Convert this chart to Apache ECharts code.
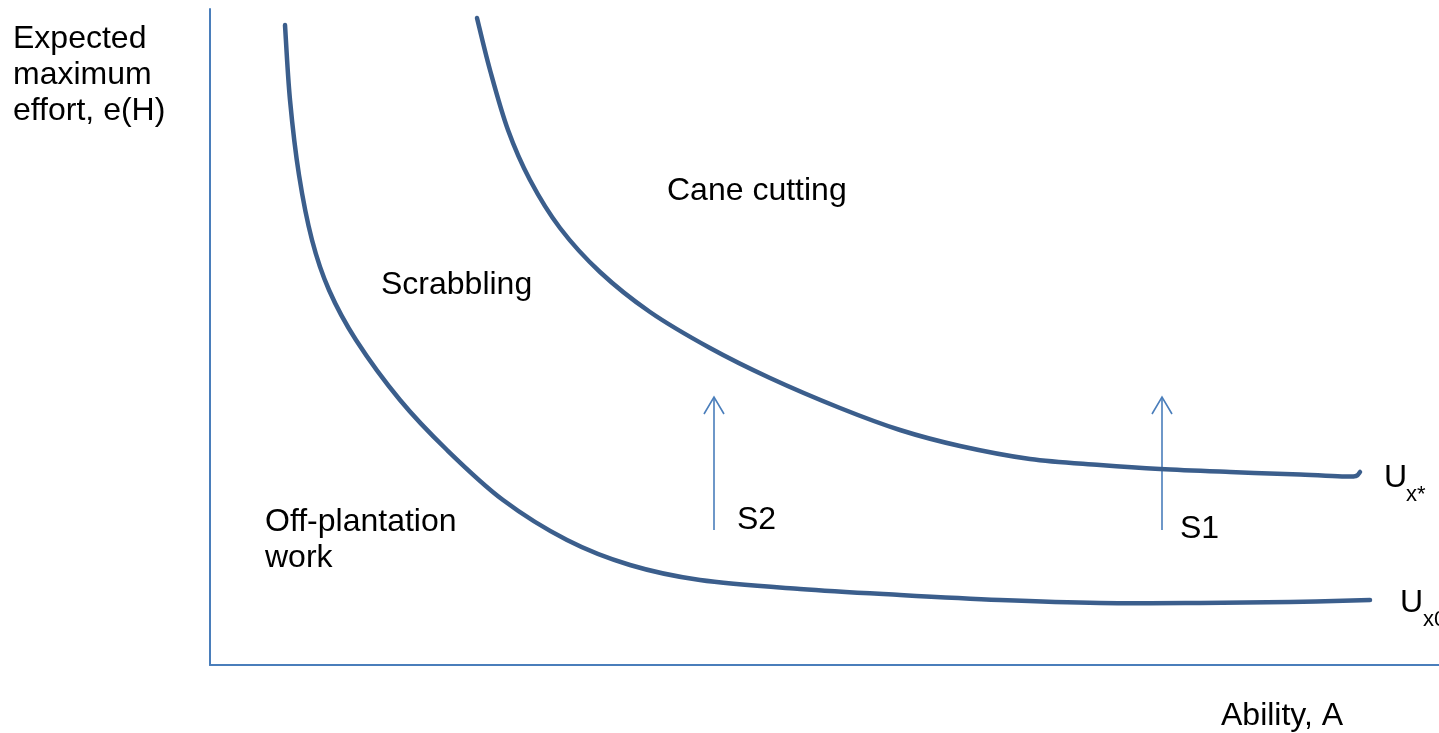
<!DOCTYPE html>
<html>
<head>
<meta charset="utf-8">
<script src="https://cdn.jsdelivr.net/npm/echarts@6/dist/echarts.min.js"></script>
<style>
html,body{margin:0;padding:0;background:#fff;}
#chart{width:1439px;height:733px;}
</style>
</head>
<body>
<div id="chart"></div>
<script>
// Ability (x) and expected maximum effort (y), arbitrary units
var uX0 = [[75,640],[80,565],[89,490],[102,425],[119,375],[146,325],[190,265],[237,215],[293,165],[357,125],[420,100],[490,85],[590,76],[690,70],[790,65],[890,62],[990,62],[1080,63],[1160,65]];
var uXStar = [[267,647],[280,595],[298,535],[320,485],[350,437],[390,393],[440,353],[500,317],[560,287],[630,257],[690,235],[750,219],[820,206],[890,200],[950,196],[1020,193],[1090,190.5],[1135,188.5],[1146,189],[1150,193]];
// Shift arrows: [ability, from effort, to effort]
var shifts = [[504,135,268],[952,135,268]];

var curveColor = '#3b5e8c';
var axisColor = '#4a7ebb';
var FONT = '"Liberation Sans", Arial, sans-serif';

var chart = echarts.init(document.getElementById('chart'), null, {renderer:'canvas'});

function txt(text, x, y, size){
  return {type:'text', silent:true, style:{text:text, x:x, y:y, font: (size||32)+'px '+FONT, fill:'#000', align:'left', verticalAlign:'middle'}};
}

// Smooth curve through the data points (Catmull-Rom drawn as cubic Beziers), mapped by the axes
function curveSeries(points){
  return {
    type:'custom', data:points, encode:{x:0, y:1}, z:3,
    renderItem:function(params, api){
      if (params.dataIndex !== 0) return null;
      var p = points.map(function(d){ return api.coord(d); });
      var n = p.length;
      var d = 'M' + p[0][0] + ' ' + p[0][1];
      for (var i = 0; i < n - 1; i++){
        var p0 = p[i > 0 ? i - 1 : i], p1 = p[i], p2 = p[i + 1], p3 = p[i + 2 < n ? i + 2 : i + 1];
        var c1x = p1[0] + (p2[0] - p0[0]) / 6, c1y = p1[1] + (p2[1] - p0[1]) / 6;
        var c2x = p2[0] - (p3[0] - p1[0]) / 6, c2y = p2[1] - (p3[1] - p1[1]) / 6;
        d += ' C' + c1x + ' ' + c1y + ' ' + c2x + ' ' + c2y + ' ' + p2[0] + ' ' + p2[1];
      }
      return {type:'path', shape:{pathData:d}, style:{fill:null, stroke:curveColor, lineWidth:4.5, lineCap:'round', lineJoin:'round'}};
    }
  };
}

chart.setOption({
  animation:false,
  grid:{left:210, right:0, top:9, bottom:68, containLabel:false},
  xAxis:{type:'value', min:0, max:1229, axisLine:{show:true, onZero:false, lineStyle:{color:axisColor, width:2}}, axisTick:{show:false}, axisLabel:{show:false}, splitLine:{show:false}},
  yAxis:{type:'value', min:0, max:656, axisLine:{show:true, onZero:false, lineStyle:{color:axisColor, width:2}}, axisTick:{show:false}, axisLabel:{show:false}, splitLine:{show:false}},
  series:[
    curveSeries(uX0),
    curveSeries(uXStar),
    {type:'custom', data:shifts, z:2,
      renderItem:function(params, api){
        var p0 = api.coord([api.value(0), api.value(1)]);
        var p1 = api.coord([api.value(0), api.value(2)]);
        var st = {stroke:axisColor, lineWidth:1.6, fill:null};
        return {type:'group', children:[
          {type:'polyline', shape:{points:[p0,p1]}, style:st},
          {type:'polyline', shape:{points:[[p1[0]-10,p1[1]+17],p1,[p1[0]+10,p1[1]+17]]}, style:st}
        ]};
      }
    }
  ],
  graphic:[
    txt('Expected', 13, 39),
    txt('maximum', 13, 75),
    txt('effort, e(H)', 13, 111),
    txt('Cane cutting', 667, 191),
    txt('Scrabbling', 381, 285),
    txt('Off-plantation', 265, 522),
    txt('work', 265, 558),
    txt('S2', 737, 520),
    txt('S1', 1180, 529),
    txt('U', 1384, 478),
    txt('x*', 1406, 495, 22),
    txt('U', 1400, 603),
    txt('x0', 1423, 620, 22),
    txt('Ability, A', 1221, 716)
  ]
});
</script>
</body>
</html>
